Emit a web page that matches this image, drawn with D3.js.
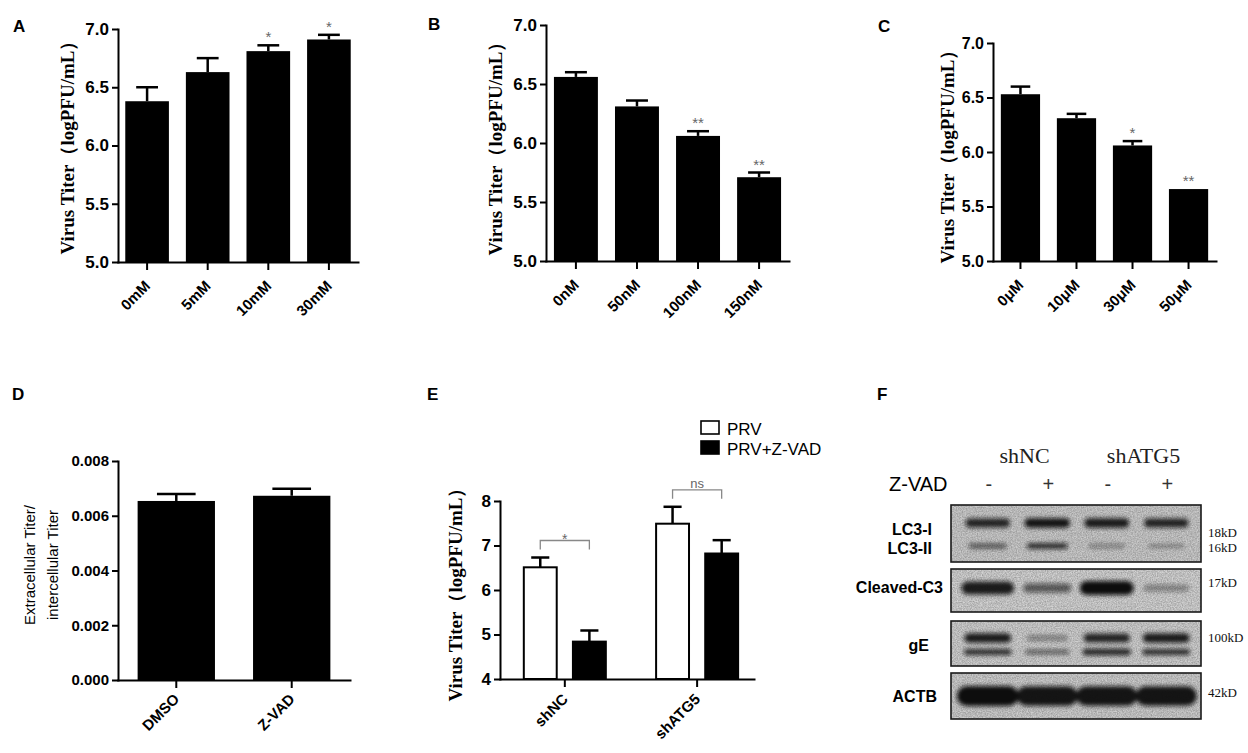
<!DOCTYPE html>
<html>
<head>
<meta charset="utf-8">
<script src="https://cdn.jsdelivr.net/npm/d3@7"></script>
<style>
body { margin: 0; background: #fff; }
svg text { font-family: "Liberation Sans", Arial, sans-serif; }
</style>
</head>
<body>
<svg id="fig" width="1248" height="753"></svg>
<script>
// ---- data ----
const doseA = ["0mM", "5mM", "10mM", "30mM"];
const titerA = [6.38, 6.63, 6.81, 6.91];
const semA = [0.12, 0.12, 0.05, 0.04];
const sigA = ["", "", "*", "*"];

const doseB = ["0nM", "50nM", "100nM", "150nM"];
const titerB = [6.56, 6.31, 6.06, 5.71];
const semB = [0.04, 0.05, 0.04, 0.04];
const sigB = ["", "", "**", "**"];

const doseC = ["0μM", "10μM", "30μM", "50μM"];
const titerC = [6.53, 6.31, 6.06, 5.66];
const semC = [0.07, 0.04, 0.04, 0.0];
const sigC = ["", "", "*", "**"];

const treatD = ["DMSO", "Z-VAD"];
const ratioD = [0.00654, 0.00673];
const semD = [0.00025, 0.00026];

const groupsE = ["shNC", "shATG5"];
const seriesE = ["PRV", "PRV+Z-VAD"];
const prvE = [6.51, 7.49];
const prvZvadE = [4.84, 6.82];
const semPrvE = [0.22, 0.38];
const semPrvZvadE = [0.25, 0.30];
const sigE = ["*", "ns"];

const yTicksABC = [5.0, 5.5, 6.0, 6.5, 7.0];
const yTicksD = [0, 0.002, 0.004, 0.006, 0.008];
const yTicksE = [4, 5, 6, 7, 8];

// western blot (F): relative band intensity per lane
const lanesF = ["shNC-", "shNC+", "shATG5-", "shATG5+"];
const groupsF = ["shNC", "shATG5"];
const zvadF = ["-", "+", "-", "+"];
const lc3I = [0.85, 0.95, 0.9, 0.85];
const lc3II = [0.6, 0.85, 0.35, 0.3];
const cleavedC3 = [0.9, 0.5, 1.0, 0.25];
const gEUpper = [0.9, 0.3, 0.85, 0.9];
const gELower = [0.8, 0.5, 0.85, 0.8];
const actb = [1.0, 0.95, 0.95, 0.95];

const svg = d3.select('#fig');

function panelLetter(t, x, y) {
    svg.append('text').attr('x', x).attr('y', y)
        .style('font-weight', 'bold').style('font-size', '17px').text(t);
}

function styleAxis(g, fs) {
    g.select('.domain').attr('stroke', '#000').attr('stroke-width', 2).attr('stroke-linecap', 'square');
    g.selectAll('.tick line').attr('stroke', '#000').attr('stroke-width', 2);
    g.selectAll('.tick text').style('font-weight', 'bold').style('font-size', (fs || 16) + 'px')
        .attr('fill', '#000').style('font-family', '"Liberation Sans", Arial, sans-serif');
}

function yTitle(lines, x, y, serif) {
    const t = svg.append('text')
        .attr('transform', `translate(${x},${y}) rotate(-90)`)
        .attr('text-anchor', 'middle');
    if (serif) {
        t.style('font-family', '"Liberation Serif", "Times New Roman", serif')
            .style('font-weight', 'bold').style('font-size', '19px').text(lines[0]);
    } else {
        lines.forEach((l, i) => {
            t.append('tspan').attr('x', 0).attr('dy', i === 0 ? 0 : 23)
                .style('font-size', '15px').text(l);
        });
    }
}

function errorBar(g, cx, yTop, yVal, cap) {
    g.append('line').attr('x1', cx).attr('x2', cx).attr('y1', yTop).attr('y2', yVal)
        .attr('stroke', '#000').attr('stroke-width', 2.5);
    g.append('line').attr('x1', cx - cap / 2).attr('x2', cx + cap / 2).attr('y1', yTop).attr('y2', yTop)
        .attr('stroke', '#000').attr('stroke-width', 2.5);
}

function xLabels(g, x, cats, base, off) {
    cats.forEach(c => {
        const cx = x(c) + x.bandwidth() / 2;
        g.append('text')
            .attr('transform', `translate(${cx + 4},${base + off}) rotate(-45)`)
            .attr('text-anchor', 'end')
            .style('font-weight', 'bold').style('font-size', '15px').text(c);
    });
}

// simple GraphPad-like bar panel
function barPanel(cfg) {
    const g = svg.append('g');
    const x = d3.scaleBand().domain(cfg.cats).range(cfg.xr)
        .paddingInner(cfg.pi).paddingOuter(cfg.po);
    const y = d3.scaleLinear().domain(cfg.yd).range(cfg.yr);
    const bw = x.bandwidth();

    g.selectAll('rect.bar').data(cfg.vals).join('rect')
        .attr('class', 'bar')
        .attr('x', (d, i) => x(cfg.cats[i]))
        .attr('y', d => y(d))
        .attr('width', bw)
        .attr('height', d => y(cfg.yd[0]) - y(d))
        .attr('fill', '#000');

    cfg.vals.forEach((v, i) => {
        const cx = x(cfg.cats[i]) + bw / 2;
        if (cfg.err[i] > 0) errorBar(g, cx, y(v + cfg.err[i]), y(v), bw * 0.5);
        if (cfg.sig && cfg.sig[i]) {
            g.append('text').attr('x', cx).attr('y', y(v + cfg.err[i]) - 3)
                .attr('text-anchor', 'middle').attr('fill', '#666')
                .style('font-size', '15px').text(cfg.sig[i]);
        }
    });

    const ya = g.append('g').attr('transform', `translate(${cfg.xr[0]},0)`)
        .call(d3.axisLeft(y).tickValues(cfg.ticks).tickFormat(cfg.fmt).tickSize(6).tickSizeOuter(0).tickPadding(3));
    styleAxis(ya, cfg.fs);
    const xa = g.append('g').attr('transform', `translate(0,${cfg.yr[0]})`)
        .call(d3.axisBottom(x).tickSize(8).tickSizeOuter(0).tickFormat(''));
    styleAxis(xa);
    xLabels(g, x, cfg.cats, cfg.yr[0], cfg.labOff || 25);
}

// ---- A ----
panelLetter('A', 13, 32);
barPanel({cats: doseA, vals: titerA, err: semA, sig: sigA,
    xr: [118, 358], yr: [262, 29], yd: [5, 7], pi: 0.28, po: 0.12,
    ticks: yTicksABC, fmt: d3.format('.1f'), fs: 17});
yTitle(['Virus Titer（logPFU/mL）'], 74, 143, true);

// ---- B ----
panelLetter('B', 428, 30);
barPanel({cats: doseB, vals: titerB, err: semB, sig: sigB,
    xr: [546, 789], yr: [261, 25], yd: [5, 7], pi: 0.28, po: 0.13,
    ticks: yTicksABC, fmt: d3.format('.1f'), fs: 17});
yTitle(['Virus Titer（logPFU/mL）'], 502, 144, true);

// ---- C ----
panelLetter('C', 878, 32);
barPanel({cats: doseC, vals: titerC, err: semC, sig: sigC,
    xr: [993, 1216], yr: [261, 43], yd: [5, 7], pi: 0.3, po: 0.14,
    ticks: yTicksABC, fmt: d3.format('.1f'), fs: 16});
yTitle(['Virus Titer（logPFU/mL）'], 954, 152, true);

// ---- D ----
panelLetter('D', 12, 400);
barPanel({cats: treatD, vals: ratioD, err: semD,
    xr: [118, 350], yr: [680, 461], yd: [0, 0.008], pi: 0.33, po: 0.17,
    ticks: yTicksD, fmt: d3.format('.3f'), labOff: 20, fs: 15});
yTitle(['Extracellular Titer/', 'intercellular Titer'], 35, 565, false);

// ---- E ----
panelLetter('E', 427, 400);
(function () {
    const g = svg.append('g');
    const xr = [500, 754], yr = [679, 501];
    const x0 = d3.scaleBand().domain(groupsE).range(xr).paddingInner(0.38).paddingOuter(0.15).align(0.6);
    const x1 = d3.scaleBand().domain(seriesE).range([0, x0.bandwidth()]).paddingInner(0.33);
    const y = d3.scaleLinear().domain([4, 8]).range(yr);
    const vals = [prvE, prvZvadE], errs = [semPrvE, semPrvZvadE];
    const fills = ['#fff', '#000'];

    seriesE.forEach((s, si) => {
        groupsE.forEach((grp, gi) => {
            const bx = x0(grp) + x1(s);
            const v = vals[si][gi];
            const cx = bx + x1.bandwidth() / 2;
            errorBar(g, cx, y(v + errs[si][gi]), y(v), x1.bandwidth() * 0.55);
            g.append('rect').attr('x', bx).attr('y', y(v))
                .attr('width', x1.bandwidth()).attr('height', y(4) - y(v))
                .attr('fill', fills[si]).attr('stroke', '#000').attr('stroke-width', 2);
        });
    });

    // significance brackets
    groupsE.forEach((grp, gi) => {
        const xa = x0(grp) + x1(seriesE[0]) + x1.bandwidth() / 2;
        const xb = x0(grp) + x1(seriesE[1]) + x1.bandwidth() / 2;
        const top = Math.max(prvE[gi] + semPrvE[gi], prvZvadE[gi] + semPrvZvadE[gi]);
        const yb = y(top) - 17;
        g.append('path').attr('d', `M${xa},${yb + 9}V${yb}H${xb}V${yb + 9}`)
            .attr('fill', 'none').attr('stroke', '#888').attr('stroke-width', 1.3);
        g.append('text').attr('x', (xa + xb) / 2).attr('y', sigE[gi] === '*' ? yb + 3 : yb - 2)
            .attr('text-anchor', 'middle').attr('fill', '#666')
            .style('font-size', sigE[gi] === '*' ? '14px' : '13px').text(sigE[gi]);
    });

    const ya = g.append('g').attr('transform', `translate(${xr[0]},0)`)
        .call(d3.axisLeft(y).tickValues(yTicksE).tickFormat(d3.format('d')).tickSize(6).tickSizeOuter(0).tickPadding(3));
    styleAxis(ya, 17);
    const xa = g.append('g').attr('transform', `translate(0,${yr[0]})`)
        .call(d3.axisBottom(x0).tickSize(8).tickSizeOuter(0).tickFormat(''));
    styleAxis(xa);
    xLabels(g, x0, groupsE, yr[0], 21);

    // legend
    const lg = svg.append('g').attr('transform', 'translate(701,421)');
    seriesE.forEach((s, i) => {
        lg.append('rect').attr('x', 0).attr('y', i * 20).attr('width', 18).attr('height', 13)
            .attr('fill', fills[i]).attr('stroke', '#000').attr('stroke-width', 1.6);
        lg.append('text').attr('x', 26).attr('y', i * 20 + 13.5)
            .style('font-size', '17px').text(s);
    });
    yTitle(['Virus Titer（logPFU/mL）'], 462, 590, true);
})();

// ---- F : western blot ----
panelLetter('F', 877, 400);
(function () {
    const defs = svg.append('defs');
    defs.append('filter').attr('id', 'blur').attr('x', '-30%').attr('y', '-100%')
        .attr('width', '160%').attr('height', '300%')
        .append('feGaussianBlur').attr('stdDeviation', 2);
    const noise = defs.append('filter').attr('id', 'grain');
    noise.append('feTurbulence').attr('type', 'fractalNoise').attr('baseFrequency', 0.8)
        .attr('numOctaves', 2).attr('seed', 3).attr('result', 'n');
    noise.append('feColorMatrix').attr('in', 'n').attr('type', 'matrix')
        .attr('values', '0 0 0 0 0  0 0 0 0 0  0 0 0 0 0  0 0 0 -1.2 0.9').attr('result', 'a');
    noise.append('feComposite').attr('in', 'a').attr('in2', 'SourceGraphic').attr('operator', 'in');

    const lane = d3.scaleBand().domain(lanesF).range([958, 1196]);
    const lc = d => lane(d) + lane.bandwidth() / 2;
    const bx = [951, 1201];

    const serif = '"Liberation Serif", "Times New Roman", serif';
    groupsF.forEach((grp, i) => {
        const cx = (lc(lanesF[i * 2]) + lc(lanesF[i * 2 + 1])) / 2 + 7;
        svg.append('text').attr('x', cx).attr('y', 463).attr('text-anchor', 'middle')
            .style('font-family', serif).style('font-size', '22px').attr('fill', '#222').text(grp);
    });
    svg.append('text').attr('x', 889).attr('y', 491).style('font-size', '20px').text('Z-VAD');
    zvadF.forEach((s, i) => {
        svg.append('text').attr('x', lc(lanesF[i]) + 1).attr('y', 491).attr('text-anchor', 'middle')
            .attr('fill', '#333').style('font-size', '20px').text(s);
    });

    const rows = [
        {top: 505, bottom: 562, bg: '#cbcbcb',
         bands: [{v: lc3I, y: 523, h: 10, w: 46}, {v: lc3II, y: 546, h: 6, w: 42}],
         labels: [{t: 'LC3-I', x: 932, y: 535}, {t: 'LC3-II', x: 932, y: 554}],
         kd: [{t: '18kD', y: 537}, {t: '16kD', y: 552}]},
        {top: 569, bottom: 612, bg: '#d3d3d3',
         bands: [{v: cleavedC3, y: 588, h: 14, w: 54}],
         labels: [{t: 'Cleaved-C3', x: 943, y: 593}],
         kd: [{t: '17kD', y: 587}]},
        {top: 621, bottom: 666, bg: '#d0d0d0',
         bands: [{v: gEUpper, y: 638, h: 10, w: 48}, {v: gELower, y: 652, h: 7, w: 50}],
         labels: [{t: 'gE', x: 929, y: 651}],
         kd: [{t: '100kD', y: 642}]},
        {top: 673, bottom: 719, bg: '#cdcdcd',
         bands: [{v: actb, y: 696, h: 20, w: 62}],
         labels: [{t: 'ACTB', x: 937, y: 702}],
         kd: [{t: '42kD', y: 697}]}
    ];

    rows.forEach(r => {
        svg.append('rect').attr('x', bx[0]).attr('y', r.top)
            .attr('width', bx[1] - bx[0]).attr('height', r.bottom - r.top)
            .attr('fill', r.bg);
        svg.append('rect').attr('x', bx[0]).attr('y', r.top)
            .attr('width', bx[1] - bx[0]).attr('height', r.bottom - r.top)
            .attr('fill', '#fff').attr('opacity', 0.35).attr('filter', 'url(#grain)');
        const bg = svg.append('g').attr('filter', 'url(#blur)');
        r.bands.forEach(b => {
            b.v.forEach((v, i) => {
                const w = b.w * (0.78 + 0.22 * v);
                const h = Math.max(2.5, b.h * (0.3 + 0.7 * v));
                bg.append('rect').attr('x', lc(lanesF[i]) - w / 2).attr('y', b.y - h / 2)
                    .attr('width', w).attr('height', h).attr('rx', h / 2)
                    .attr('fill', '#111').attr('opacity', 0.2 + 0.8 * v);
            });
        });
        svg.append('rect').attr('x', bx[0]).attr('y', r.top)
            .attr('width', bx[1] - bx[0]).attr('height', r.bottom - r.top)
            .attr('fill', 'none').attr('stroke', '#1a1a1a').attr('stroke-width', 1.6);
        r.labels.forEach(l => {
            svg.append('text').attr('x', l.x).attr('y', l.y).attr('text-anchor', 'end')
                .style('font-weight', 'bold').style('font-size', '16px').text(l.t);
        });
        r.kd.forEach(k => {
            svg.append('text').attr('x', 1208).attr('y', k.y)
                .style('font-family', serif).style('font-size', '13px').attr('fill', '#111').text(k.t);
        });
    });
})();
</script>
</body>
</html>
